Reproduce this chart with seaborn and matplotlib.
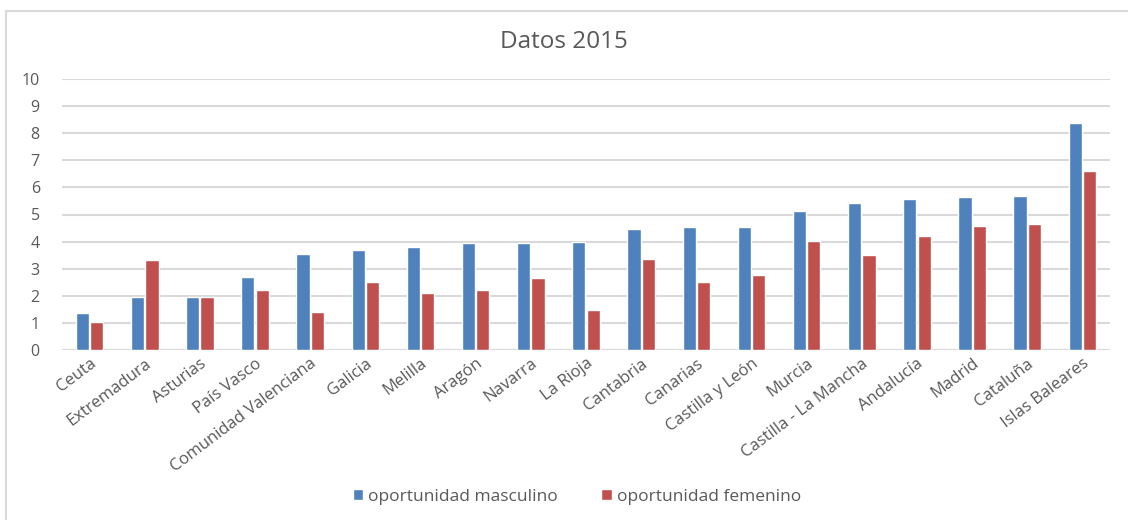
import pandas as pd
import matplotlib.pyplot as plt
import seaborn as sns
from matplotlib.patches import Rectangle

# Datos
regiones = ['Ceuta', 'Extremadura', 'Asturias', 'País Vasco', 'Comunidad Valenciana',
            'Galicia', 'Melilla', 'Aragón', 'Navarra', 'La Rioja', 'Cantabria',
            'Canarias', 'Castilla y León', 'Murcia', 'Castilla - La Mancha',
            'Andalucía', 'Madrid', 'Cataluña', 'Islas Baleares']
masculino = [1.35, 1.96, 1.96, 2.70, 3.56, 3.69, 3.80, 3.93, 3.93, 3.98, 4.47,
             4.53, 4.53, 5.13, 5.44, 5.57, 5.64, 5.69, 8.38]
femenino = [1.04, 3.32, 1.96, 2.21, 1.41, 2.52, 2.09, 2.21, 2.64, 1.49, 3.37,
            2.52, 2.76, 4.04, 3.49, 4.22, 4.59, 4.66, 6.61]
series = ['oportunidad masculino', 'oportunidad femenino']

df = pd.DataFrame({
    'region': regiones * 2,
    'valor': masculino + femenino,
    'serie': [series[0]] * len(regiones) + [series[1]] * len(regiones),
})

gris = '#595959'
sns.set_theme(style='white')
plt.rcParams['font.family'] = ['Open Sans', 'DejaVu Sans']

fig = plt.figure(figsize=(11.28, 5.2), dpi=100)
ax = fig.add_axes([62 / 1128, 1 - 350 / 520, (1110 - 62) / 1128, (350 - 79) / 520])

sns.barplot(data=df, x='region', y='valor', hue='serie', order=regiones,
            hue_order=series, palette=['#4F81BD', '#C0504D'], saturation=1,
            width=0.52, gap=0.08, ax=ax, legend=True)

ax.set_ylim(0, 10)
ax.set_xlim(-0.5, len(regiones) - 0.5)
ax.set_yticks(range(0, 11))
ax.yaxis.grid(True, color='#D9D9D9', linewidth=1.5)
ax.set_axisbelow(True)
for s in ax.spines.values():
    s.set_visible(False)
ax.axhline(0, color='#D9D9D9', linewidth=1.5, zorder=0)
ax.set_xlabel('')
ax.set_ylabel('')
ax.tick_params(axis='y', colors=gris, labelsize=11.5, length=0, pad=16)
ax.tick_params(axis='x', colors=gris, labelsize=12, length=0, pad=4)
plt.setp(ax.get_xticklabels(), rotation=37, ha='right', rotation_mode='anchor')

fig.text(0.5, 1 - 42 / 520, 'Datos 2015', ha='center', va='center', fontsize=17.5, color=gris)

ax.legend(loc='center', bbox_to_anchor=(577 / 1128, 1 - 497 / 520),
          bbox_transform=fig.transFigure, ncol=2, frameon=False, fontsize=12.5,
          labelcolor=gris, handlelength=0.6, handleheight=0.6, handletextpad=0.3,
          columnspacing=2.5)

# Marco del área del gráfico
fig.patches.append(Rectangle((6 / 1128, -0.1), 1.2, 1.1 - 11 / 520,
                             transform=fig.transFigure, fill=False,
                             edgecolor='#D9D9D9', linewidth=1.5))

fig.savefig('out.png')
